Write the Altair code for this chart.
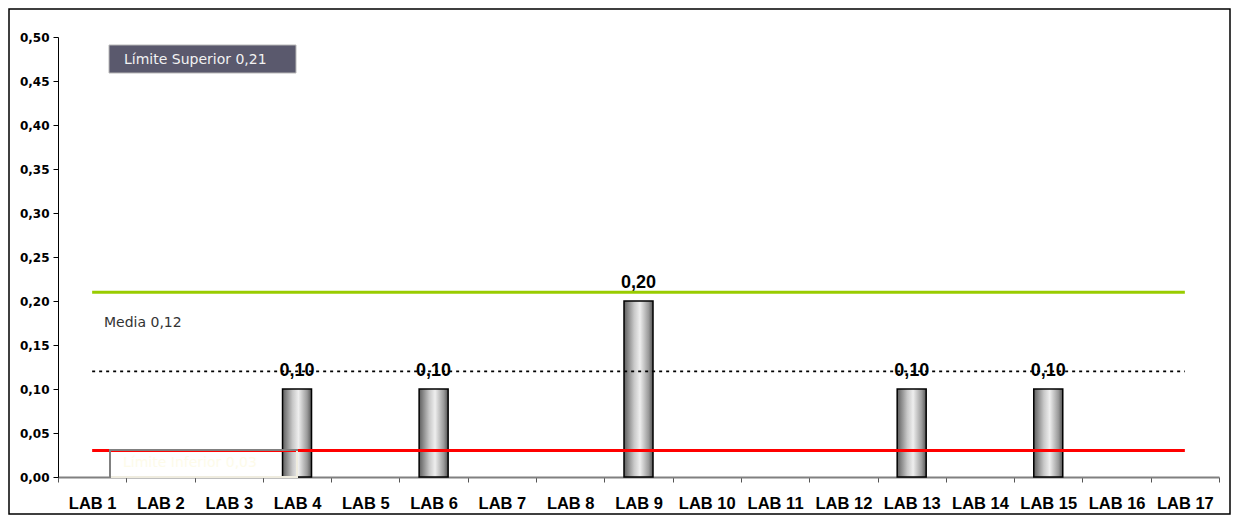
import altair as alt
import pandas as pd

# ---- data ----
categories = ["LAB 1", "LAB 2", "LAB 3", "LAB 4", "LAB 5", "LAB 6", "LAB 7", "LAB 8", "LAB 9",
              "LAB 10", "LAB 11", "LAB 12", "LAB 13", "LAB 14", "LAB 15", "LAB 16", "LAB 17"]
values = [None, None, None, 0.10, None, 0.10, None, None, 0.20,
          None, None, None, 0.10, None, 0.10, None, None]
upper_limit = 0.21
mean_value = 0.12
lower_limit = 0.03
y_ticks = [0.0, 0.05, 0.10, 0.15, 0.20, 0.25, 0.30, 0.35, 0.40, 0.45, 0.50]

bars_df = pd.DataFrame({"lab": categories, "value": values}).dropna()
lines_df = pd.DataFrame({
    "lab": categories,
    "upper": [upper_limit] * len(categories),
    "mean": [mean_value] * len(categories),
    "lower": [lower_limit] * len(categories),
})
one = pd.DataFrame({"a": [0]})

W, H = 1161, 440

x_enc = alt.X("lab:N", sort=categories,
              scale=alt.Scale(domain=categories, paddingInner=0, paddingOuter=0),
              axis=alt.Axis(title=None, labelAngle=0, labelFont="Liberation Sans",
                            labelFontWeight="bold", labelFontSize=16.5, labelColor="#000",
                            labelPadding=13, tickBand="extent", tickSize=5, tickColor="#555",
                            domainColor="#808080", domainWidth=2))
y_scale = alt.Scale(domain=[0, 0.5], nice=False)
y_enc = alt.Y("value:Q", scale=y_scale,
              axis=alt.Axis(title=None, values=y_ticks,
                            labelExpr="replace(format(datum.value, '.2f'), '.', ',')",
                            labelFont="DejaVu Sans", labelFontWeight="bold", labelFontSize=12,
                            labelColor="#000", labelPadding=4, tickSize=5, tickColor="#000",
                            domainColor="#000", domainWidth=1, grid=False))

grad = alt.Gradient(gradient="linear", x1=0, x2=1, y1=0, y2=0,
                    stops=[alt.GradientStop(color="#5e5e5e", offset=0),
                           alt.GradientStop(color="#c8c8c8", offset=0.35),
                           alt.GradientStop(color="#eeeeee", offset=0.55),
                           alt.GradientStop(color="#9a9a9a", offset=0.85),
                           alt.GradientStop(color="#555555", offset=1)])

bars = alt.Chart(bars_df).mark_bar(size=29, color=grad, stroke="#000", strokeWidth=1.5).encode(
    x=x_enc, y=y_enc)

labels = alt.Chart(bars_df).transform_calculate(
    lbl="replace(format(datum.value, '.2f'), '.', ',')"
).mark_text(font="Liberation Sans", fontWeight="bold", fontSize=18,
            baseline="alphabetic", dy=-13, color="#000").encode(
    x=alt.X("lab:N", sort=categories),
    y=alt.Y("value:Q"),
    text="lbl:N")

upper_line = alt.Chart(lines_df).mark_line(color="#99cc00", strokeWidth=3).encode(
    x=alt.X("lab:N", sort=categories), y=alt.Y("upper:Q", scale=y_scale))
mean_line = alt.Chart(lines_df).mark_line(color="#000", strokeWidth=1.8, strokeDash=[3, 4]).encode(
    x=alt.X("lab:N", sort=categories), y=alt.Y("mean:Q", scale=y_scale))
lower_line = alt.Chart(lines_df).mark_line(color="#ff0000", strokeWidth=3).encode(
    x=alt.X("lab:N", sort=categories), y=alt.Y("lower:Q", scale=y_scale))

# annotation boxes
sup_box = alt.Chart(one).mark_rect(fill="#5a596d", stroke="#b8b8b8", strokeWidth=1).encode(
    x=alt.value(51), x2=alt.value(238), y=alt.value(8), y2=alt.value(36))
sup_text = alt.Chart(one).mark_text(font="DejaVu Sans", fontSize=14, color="#f2f2f2",
                                    align="left", baseline="middle").encode(
    x=alt.value(66), y=alt.value(23), text=alt.value("Límite Superior 0,21"))
media_text = alt.Chart(one).mark_text(font="DejaVu Sans", fontSize=14, color="#333333",
                                      align="left", baseline="middle").encode(
    x=alt.value(46), y=alt.value(286), text=alt.value("Media 0,12"))
inf_box = alt.Chart(one).mark_rect(fill="#ffffff", fillOpacity=0, stroke="#808080", strokeWidth=2).encode(
    x=alt.value(52), x2=alt.value(239), y=alt.value(413), y2=alt.value(440))
inf_bottom = alt.Chart(one).mark_rule(color="#efecdf", strokeWidth=2).encode(
    x=alt.value(53), x2=alt.value(240), y=alt.value(440))
inf_right = alt.Chart(one).mark_rule(color="#efecdf", strokeWidth=2).encode(
    x=alt.value(239), y=alt.value(414), y2=alt.value(440))
inf_text = alt.Chart(one).mark_text(font="DejaVu Sans", fontSize=14, color="#fdfbea",
                                    align="left", baseline="middle").encode(
    x=alt.value(65), y=alt.value(426), text=alt.value("Límite Inferior 0,03"))

border = alt.Chart(one).mark_rect(fill="#ffffff", fillOpacity=0, stroke="#000", strokeWidth=1.5).encode(
    x=alt.value(-49), x2=alt.value(1172), y=alt.value(-28), y2=alt.value(477))

chart = alt.layer(
    bars, labels, upper_line, mean_line, lower_line,
    sup_box, sup_text, media_text, inf_box, inf_bottom, inf_right, inf_text, border
).properties(
    width=W, height=H,
    autosize=alt.AutoSizeParams(type="none"),
    padding={"left": 50, "top": 29, "right": 12, "bottom": 38},
    background="#ffffff",
).configure_view(stroke=None)

chart.save("out.html", embed_options={"renderer": "svg", "actions": False})
